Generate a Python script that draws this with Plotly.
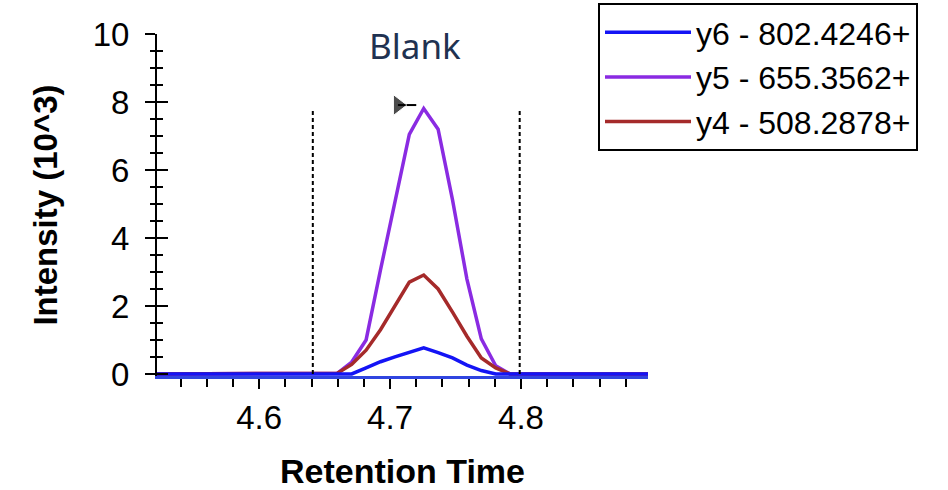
import plotly.graph_objects as go

# ---- data ----
rt = [4.522, 4.6487, 4.6597, 4.6707, 4.6817, 4.6927, 4.7037, 4.7147, 4.7257,
      4.7367, 4.7477, 4.7587, 4.7697, 4.7807, 4.7917, 4.897]
y6 = [0, 0, 0, 0, 0.18, 0.36, 0.50, 0.63, 0.77, 0.63, 0.47, 0.26, 0.10, 0, 0, 0]
y5 = [0, 0, 0.02, 0.35, 1.00, 3.06, 5.09, 7.05, 7.81, 7.20, 5.12, 2.79, 1.03, 0.24, 0, 0]
y4 = [0, 0, 0.02, 0.28, 0.70, 1.30, 2.00, 2.70, 2.91, 2.50, 1.82, 1.11, 0.47, 0.18, 0, 0]
series_names = ["y6 - 802.4246+", "y5 - 655.3562+", "y4 - 508.2878+"]
boundary_rt = [4.641, 4.799]
boundary_top = 7.8
apex_rt = [4.706, 4.720]
apex_y = [7.91, 7.91]
x_ticks = [4.6, 4.7, 4.8]
y_ticks = [0, 2, 4, 6, 8, 10]

FONT = "Liberation Sans, Arial, sans-serif"
BLUE = "#1414f5"
PURPLE = "#8a2be2"
RED = "#a52a2a"

fig = go.Figure()

# draw order: purple, red, blue (blue baseline on top); legend order via legendrank
fig.add_trace(go.Scatter(x=rt, y=y5, mode="lines", name=series_names[1],
                         line=dict(color=PURPLE, width=3.5), legendrank=2))
fig.add_trace(go.Scatter(x=rt, y=y4, mode="lines", name=series_names[2],
                         line=dict(color=RED, width=3.5), legendrank=3))
fig.add_trace(go.Scatter(x=rt, y=y6, mode="lines", name=series_names[0],
                         line=dict(color=BLUE, width=3.5), legendrank=1))

# integration boundaries
for b in boundary_rt:
    fig.add_trace(go.Scatter(x=[b, b], y=[0, boundary_top], mode="lines",
                             line=dict(color="black", width=2, dash="4px,3px"),
                             showlegend=False, hoverinfo="skip", yaxis="y2"))

# apex flag
fig.add_trace(go.Scatter(x=apex_rt, y=apex_y, mode="lines+markers",
                         line=dict(color="black", width=2),
                         marker=dict(symbol="triangle-right", size=[18, 0], color="black"),
                         showlegend=False, hoverinfo="skip"))

yrange = [-0.06, 10]
fig.update_layout(
    width=948, height=490,
    margin=dict(l=157, r=300, t=34, b=114, autoexpand=False),
    plot_bgcolor="white", paper_bgcolor="white",
    showlegend=True,
    legend=dict(x=(598 - 157) / 491, y=(376 - 3) / 342, xanchor="left", yanchor="top",
                bordercolor="black", borderwidth=2, bgcolor="white",
                font=dict(family=FONT, size=32, color="black"),
                itemwidth=86),
    xaxis=dict(range=[4.522, 4.897], tickvals=x_ticks, ticktext=[str(v) for v in x_ticks],
               ticks="outside", ticklen=10, tickwidth=2, tickcolor="black",
               minor=dict(dtick=0.02, tick0=4.6, ticks="outside", ticklen=8,
                          tickwidth=2, tickcolor="black"),
               showline=True, linecolor="#3045e0", linewidth=3,
               showgrid=False, zeroline=False,
               tickfont=dict(family=FONT, size=33, color="black"),
               title=dict(text="<b>Retention Time</b>", standoff=27,
                          font=dict(family=FONT, size=34, color="black"))),
    yaxis=dict(range=yrange, tickvals=y_ticks, ticks="outside", ticklen=10,
               tickwidth=2, tickcolor="black",
               minor=dict(dtick=0.5, tick0=0, ticks="outside", ticklen=5,
                          tickwidth=2, tickcolor="black"),
               showline=True, linecolor="black", linewidth=2,
               showgrid=False, zeroline=False,
               tickfont=dict(family=FONT, size=33, color="black"),
               ticklabelstandoff=9,
               title=dict(text="<b>Intensity (10^3)</b>", standoff=25,
                          font=dict(family=FONT, size=33, color="black"))),
    yaxis2=dict(range=yrange, overlaying="y", side="left", anchor="x",
                tickvals=y_ticks, ticks="inside", ticklen=11, tickwidth=2,
                tickcolor="black", showticklabels=False,
                minor=dict(dtick=0.5, tick0=0, ticks="inside", ticklen=6,
                           tickwidth=2, tickcolor="black"),
                showline=False, showgrid=False, zeroline=False),
)
fig.add_annotation(text="Blank", xref="paper", yref="paper",
                   x=(415 - 157) / 491, y=(376 - 45) / 342,
                   xanchor="center", yanchor="middle", showarrow=False,
                   font=dict(family="Noto Sans, Open Sans, sans-serif", size=35, color="#1f3251"))

fig.write_html("out.html")
